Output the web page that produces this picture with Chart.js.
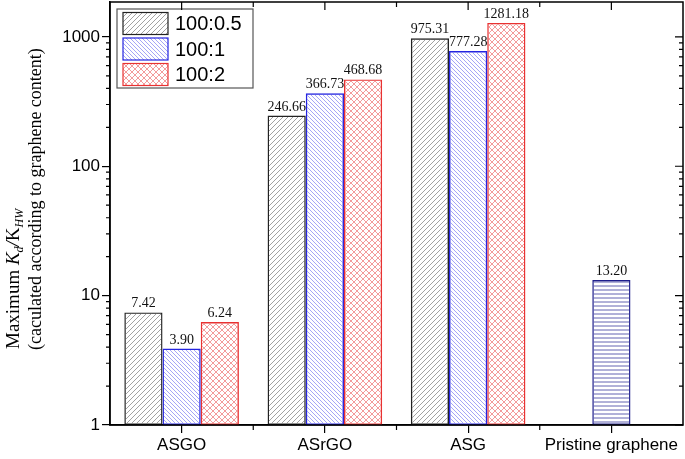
<!DOCTYPE html>
<html>
<head>
<meta charset="utf-8">
<script src="https://cdn.jsdelivr.net/npm/chart.js@4.4.1/dist/chart.umd.min.js"></script>
<style>
  html, body { margin: 0; padding: 0; background: #fff; }
  #wrap { width: 685px; height: 459px; position: relative; }
</style>
</head>
<body>
<div id="wrap"><canvas id="chart"></canvas></div>
<script>
// Data
const categories = ['ASGO', 'ASrGO', 'ASG', 'Pristine graphene'];
const seriesNames = ['100:0.5', '100:1', '100:2'];
const ratio05 = [7.42, 246.66, 975.31, null];
const ratio1 = [3.90, 366.73, 777.28, 13.20];
const ratio2 = [6.24, 468.68, 1281.18, null];
const majorTicks = [1, 10, 100, 1000];
const yMax = 1860;

const SERIF = '"Liberation Serif", "Times New Roman", serif';
const SANS = '"Liberation Sans", Arial, sans-serif';

// Build a small repeating hatch tile
function makeHatch(kind, color, size, lw) {
  const c = document.createElement('canvas');
  c.width = size; c.height = size;
  const g = c.getContext('2d');
  g.strokeStyle = color;
  g.lineWidth = lw;
  g.beginPath();
  if (kind === 'fwd' || kind === 'cross') {
    g.moveTo(0, size); g.lineTo(size, 0);
    g.moveTo(-1, 1); g.lineTo(1, -1);
    g.moveTo(size - 1, size + 1); g.lineTo(size + 1, size - 1);
  }
  if (kind === 'back' || kind === 'cross') {
    g.moveTo(0, 0); g.lineTo(size, size);
    g.moveTo(-1, size - 1); g.lineTo(1, size + 1);
    g.moveTo(size - 1, -1); g.lineTo(size + 1, 1);
  }
  if (kind === 'horiz') {
    g.moveTo(0, size / 2); g.lineTo(size, size / 2);
  }
  g.stroke();
  return g.createPattern(c, 'repeat');
}

const blackHatch = makeHatch('fwd', '#7a7a7a', 5, 0.7);
const blueHatch = makeHatch('back', '#6a6af0', 4, 0.6);
const redHatch = makeHatch('cross', '#ee7070', 6, 0.7);
const navyHatch = makeHatch('horiz', '#5050a8', 4, 0.9);

const seriesFill = [blackHatch, blueHatch, redHatch];
const seriesBorder = ['#222222', '#2424e0', '#e83232'];

// Value labels above each bar
const valueLabels = {
  id: 'valueLabels',
  afterDatasetsDraw(chart) {
    const ctx = chart.ctx;
    ctx.save();
    ctx.font = '14px ' + SERIF;
    ctx.fillStyle = '#111';
    ctx.textAlign = 'center';
    ctx.textBaseline = 'alphabetic';
    chart.data.datasets.forEach((ds, i) => {
      const meta = chart.getDatasetMeta(i);
      meta.data.forEach((bar, j) => {
        const v = ds.data[j];
        if (v == null) return;
        ctx.fillText(v.toFixed(2), bar.x, bar.y - 5);
      });
    });
    ctx.restore();
  }
};

// Frame, mirrored ticks and minor ticks
const frameTicks = {
  id: 'frameTicks',
  afterDraw(chart) {
    const ctx = chart.ctx;
    const a = chart.chartArea;
    const y = chart.scales.y;
    const x = chart.scales.x;
    ctx.save();
    ctx.strokeStyle = '#000';
    ctx.lineWidth = 1.5;
    ctx.strokeRect(a.left, a.top, a.right - a.left, a.bottom - a.top);
    ctx.lineWidth = 1.2;
    ctx.beginPath();
    // y minor ticks (outside left, inside right)
    majorTicks.forEach(d => {
      for (let k = 2; k <= 9; k++) {
        const v = k * d;
        if (v > yMax) break;
        const py = y.getPixelForValue(v);
        ctx.moveTo(a.left - 4, py); ctx.lineTo(a.left, py);
        ctx.moveTo(a.right, py); ctx.lineTo(a.right - 4, py);
      }
      const py = y.getPixelForValue(d);
      ctx.moveTo(a.right, py); ctx.lineTo(a.right - 8, py);
    });
    // x ticks: majors at centres, minors at boundaries
    const step = (a.right - a.left) / categories.length;
    categories.forEach((c, i) => {
      const px = x.getPixelForValue(i);
      ctx.moveTo(px, a.top); ctx.lineTo(px, a.top + 8);
      if (i > 0) {
        const bx = a.left + step * i;
        ctx.moveTo(bx, a.bottom); ctx.lineTo(bx, a.bottom + 5);
        ctx.moveTo(bx, a.top); ctx.lineTo(bx, a.top + 5);
      }
    });
    ctx.stroke();
    ctx.restore();
  }
};

// Legend box in the top-left corner
const boxLegend = {
  id: 'boxLegend',
  afterDatasetsDraw(chart) {
    const ctx = chart.ctx;
    ctx.save();
    ctx.fillStyle = '#fff';
    ctx.fillRect(117, 9, 136, 79);
    ctx.strokeStyle = '#555';
    ctx.lineWidth = 1.2;
    ctx.strokeRect(117, 9, 136, 79);
    ctx.font = '20px ' + SANS;
    ctx.textBaseline = 'middle';
    ctx.textAlign = 'left';
    seriesNames.forEach((name, i) => {
      const top = 12.5 + i * 25.5;
      ctx.fillStyle = seriesFill[i];
      ctx.fillRect(123, top, 45, 22);
      ctx.strokeStyle = seriesBorder[i];
      ctx.lineWidth = 1.2;
      ctx.strokeRect(123, top, 45, 22);
      ctx.fillStyle = '#000';
      ctx.fillText(name, 175, top + 12);
    });
    ctx.restore();
  }
};

// Rotated y-axis title with italic/subscript parts
const yTitle = {
  id: 'yTitle',
  afterDraw(chart) {
    const ctx = chart.ctx;
    ctx.save();
    ctx.fillStyle = '#000';
    ctx.textAlign = 'left';
    ctx.textBaseline = 'alphabetic';
    // line 1
    ctx.save();
    ctx.translate(19, 349);
    ctx.rotate(-Math.PI / 2);
    let cx = 0;
    const parts = [
      { t: 'Maximum ', f: '19px ' + SERIF, dy: 0 },
      { t: 'K', f: 'italic 19px ' + SERIF, dy: 0 },
      { t: 'd', f: 'italic 12px ' + SERIF, dy: 4 },
      { t: '/', f: 'italic 19px ' + SERIF, dy: 0 },
      { t: 'K', f: '19px ' + SERIF, dy: 0 },
      { t: 'HW', f: 'italic 12px ' + SERIF, dy: 4 }
    ];
    parts.forEach(p => {
      ctx.font = p.f;
      ctx.fillText(p.t, cx, p.dy);
      cx += ctx.measureText(p.t).width;
    });
    ctx.restore();
    // line 2
    ctx.save();
    ctx.translate(41, 350);
    ctx.rotate(-Math.PI / 2);
    ctx.font = '18px ' + SERIF;
    ctx.fillText('(caculated according to graphene content)', 0, 0);
    ctx.restore();
    ctx.restore();
  }
};

const datasetValues = [ratio05, ratio1, ratio2];

new Chart(document.getElementById('chart'), {
  type: 'bar',
  data: {
    labels: categories,
    datasets: seriesNames.map((name, i) => ({
      label: name,
      data: datasetValues[i],
      backgroundColor: ctx => (i === 1 && ctx.dataIndex === 3) ? navyHatch : seriesFill[i],
      borderColor: ctx => (i === 1 && ctx.dataIndex === 3) ? '#1e1e8c' : seriesBorder[i],
      borderWidth: 1.4,
      borderSkipped: false,
      categoryPercentage: 0.8,
      barPercentage: 1.0
    }))
  },
  options: {
    responsive: true,
    maintainAspectRatio: false,
    animation: false,
    layout: { padding: { top: 2, right: 2, left: 0, bottom: 0 } },
    plugins: {
      legend: { display: false },
      tooltip: { enabled: false }
    },
    scales: {
      x: {
        grid: { display: true, drawOnChartArea: false, offset: false, tickLength: 8, color: '#000', lineWidth: 1.2 },
        border: { display: true, color: '#000', width: 1.5 },
        ticks: { font: { family: SANS, size: 17 }, color: '#000', padding: 2, maxRotation: 0 },
        afterFit: s => { s.height = 34; s.paddingLeft = 0; s.paddingRight = 0; }
      },
      y: {
        type: 'logarithmic',
        min: 1,
        max: yMax,
        grid: { display: true, drawOnChartArea: false, tickLength: 8, color: '#000', lineWidth: 1.2 },
        border: { display: true, color: '#000', width: 1.5 },
        afterBuildTicks: s => { s.ticks = majorTicks.map(v => ({ value: v })); },
        ticks: {
          font: { family: SANS, size: 17 },
          color: '#000',
          padding: 2,
          callback: v => String(v)
        },
        afterFit: s => { s.width = 110; s.paddingTop = 0; s.paddingBottom = 0; }
      }
    }
  },
  plugins: [valueLabels, frameTicks, boxLegend, yTitle]
});
</script>
</body>
</html>
